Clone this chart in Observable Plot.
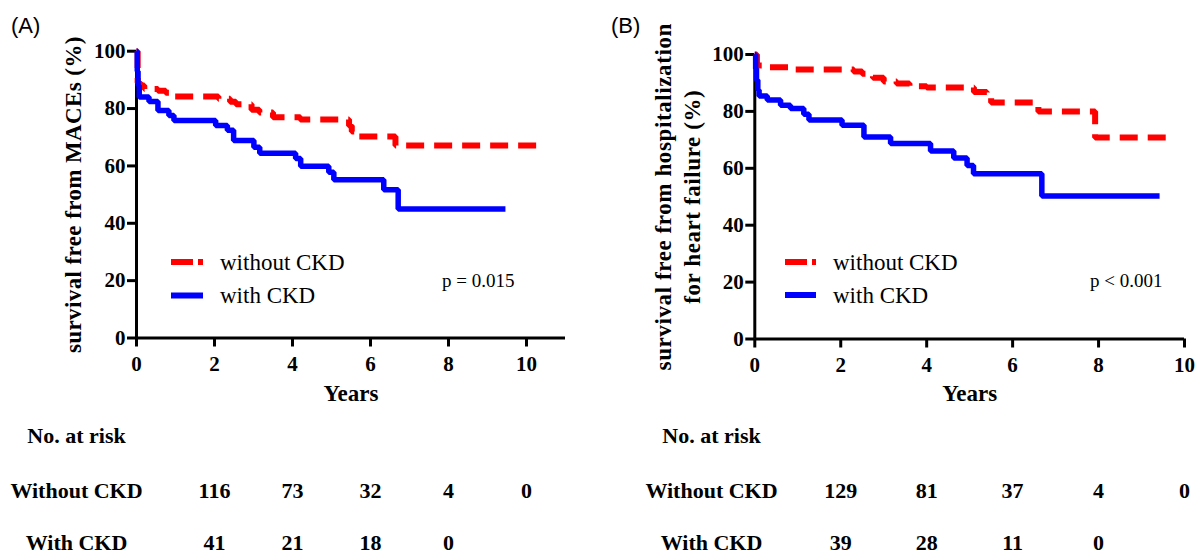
<!DOCTYPE html>
<html>
<head>
<meta charset="utf-8">
<script src="https://cdn.jsdelivr.net/npm/d3@7"></script>
<script src="https://cdn.jsdelivr.net/npm/@observablehq/plot@0.6"></script>
<style>
  html, body { margin: 0; padding: 0; background: #fff; }
  #wrap { position: relative; width: 1199px; height: 553px; overflow: hidden; background: #fff; }
  #panelA { position: absolute; left: 0; top: 0; }
  #panelB { position: absolute; left: 600px; top: 0; }
  #overlay { position: absolute; left: 0; top: 0; pointer-events: none; }
  .ylabA text { letter-spacing: 0.4px; }
  .ylabB text { letter-spacing: 0.6px; }
</style>
</head>
<body>
<div id="wrap">
  <div id="panelA"></div>
  <div id="panelB"></div>
  <svg id="overlay" width="1199" height="553"></svg>
</div>
<script>
// ---------- Data ----------
const xTicksA = [0, 2, 4, 6, 8, 10];
const xTicksB = [0, 2, 4, 6, 8, 10];
const yTicks = [0, 20, 40, 60, 80, 100];

// Panel A: survival free from MACEs
const withoutA_t = [0, 0.03, 0.1, 0.2, 0.55, 0.75, 0.92, 2.1, 2.4, 2.55, 2.95, 3.15, 3.5, 4.2, 5.45, 5.52, 5.6, 6.64, 10.38];
const withoutA_s = [100, 89, 88, 86.8, 86.2, 85.5, 84.2, 83.4, 82.4, 81.5, 79.6, 78.6, 77, 76.2, 74, 72, 70.3, 67.1, 67.1];
const withA_t = [0, 0.02, 0.04, 0.07, 0.32, 0.55, 0.83, 0.96, 2.03, 2.33, 2.49, 3.01, 3.16, 4.08, 4.21, 4.93, 5.06, 6.34, 6.71, 9.46];
const withA_s = [100, 93, 88, 84, 82.5, 79.3, 77.6, 75.8, 74.1, 72.4, 68.9, 66.5, 64.4, 62.6, 59.9, 57.8, 55.2, 51.7, 45.0, 45.0];

// Panel B: survival free from hospitalization for heart failure
const withoutB_t = [0, 0.05, 0.3, 0.9, 2.3, 2.5, 2.75, 3.0, 3.3, 3.6, 4.0, 5.1, 5.4, 5.5, 6.6, 7.92, 9.78];
const withoutB_s = [100, 96.1, 95.5, 94.7, 94, 93.2, 91.8, 90.5, 89.8, 88.8, 88.4, 86.8, 86, 83.1, 80, 70.8, 70.8];
const withB_t = [0, 0.02, 0.04, 0.07, 0.1, 0.29, 0.6, 0.83, 1.14, 1.26, 2.03, 2.54, 3.16, 4.09, 4.63, 4.94, 5.09, 6.68, 9.42];
const withB_s = [100, 95, 91, 87.5, 85.4, 84, 82.2, 81, 79, 77, 75.1, 71, 68.7, 66.1, 63.6, 61, 58.1, 50.3, 50.3];

// Numbers at risk
const riskTimes = [2, 4, 6, 8, 10];
const riskWithoutA = [116, 73, 32, 4, 0];
const riskWithA = [41, 21, 18, 0];
const riskWithoutB = [129, 81, 37, 4, 0];
const riskWithB = [39, 28, 11, 0];
const riskRowLabels = ["No. at risk", "Without CKD", "With CKD"];

const seriesNames = ["without CKD", "with CKD"];
const pTexts = ["p = 0.015", "p < 0.001"];
const panelTitles = ["(A)", "(B)"];
const yLabelA = "survival free from MACEs (%)";
const yLabelB = "survival free from hospitalization\nfor heart failure (%)";
const xLabel = "Years";

// ---------- Helpers ----------
const RED = "#ff0000", BLUE = "#0000ff";
const SERIF = "'Liberation Serif', 'Times New Roman', Times, serif";
const zip = (ts, ss) => ts.map((t, i) => ({t, s: ss[i]}));
const riskRows = (vals) => vals.map((n, i) => ({t: riskTimes[i], n}));

function panel(cfg) {
  return Plot.plot({
    width: cfg.width, height: 553,
    marginLeft: cfg.ml, marginRight: cfg.mr, marginTop: cfg.mt, marginBottom: cfg.mb,
    x: {domain: cfg.xDomain},
    y: {domain: [0, 100]},
    style: {fontFamily: SERIF, fontWeight: "bold", fontSize: "21px", color: "#000", background: "transparent", overflow: "visible"},
    marks: [
      Plot.axisX({ticks: cfg.xTicks, tickSize: 9, tickPadding: 9, strokeWidth: 3, label: null, tickFormat: d => String(d)}),
      Plot.axisY({ticks: yTicks, tickSize: 9, tickPadding: 2, strokeWidth: 3, label: null, tickFormat: d => String(d)}),
      Plot.ruleY([0], {stroke: "#000", strokeWidth: 3}),
      Plot.ruleX([0], {stroke: "#000", strokeWidth: 3}),
      Plot.line(cfg.red, {x: "t", y: "s", curve: "step-after", stroke: RED, strokeWidth: 6,
        strokeDasharray: "18,10", strokeLinecap: "butt", strokeLinejoin: "miter"}),
      Plot.line(cfg.blue, {x: "t", y: "s", curve: "step-after", stroke: BLUE, strokeWidth: 5.5,
        strokeLinecap: "butt", strokeLinejoin: "miter"}),
      // axis titles
      Plot.text([xLabel], {text: d => d, frameAnchor: "bottom", dy: cfg.yearsDy, fontSize: 23, fontWeight: "bold"}),
      Plot.text([cfg.yLabel], {text: d => d, frameAnchor: "left", textAnchor: "middle", dx: cfg.ylabDx, rotate: -90, fontSize: 23,
        fontWeight: "bold", lineHeight: 1.26, className: cfg.ylabClass}),
      // risk table
      Plot.text([riskRowLabels[0]], {text: d => d, frameAnchor: "bottom-left", textAnchor: "middle", dx: cfg.rowDx, dy: cfg.rowDy[0], fontSize: 22, fontWeight: "bold"}),
      Plot.text([riskRowLabels[1]], {text: d => d, frameAnchor: "bottom-left", textAnchor: "middle", dx: cfg.rowDx, dy: cfg.rowDy[1], fontSize: 22, fontWeight: "bold"}),
      Plot.text([riskRowLabels[2]], {text: d => d, frameAnchor: "bottom-left", textAnchor: "middle", dx: cfg.rowDx, dy: cfg.rowDy[2], fontSize: 22, fontWeight: "bold"}),
      Plot.text(cfg.riskWithout, {x: "t", text: "n", frameAnchor: "bottom", dy: cfg.rowDy[1], fontSize: 22, fontWeight: "bold"}),
      Plot.text(cfg.riskWith, {x: "t", text: "n", frameAnchor: "bottom", dy: cfg.rowDy[2], fontSize: 22, fontWeight: "bold"})
    ]
  });
}

document.getElementById("panelA").append(panel({
  width: 600, ml: 136, mr: 35, mt: 50.7, mb: 215.5, xDomain: [0, 11], xTicks: xTicksA,
  red: zip(withoutA_t, withoutA_s), blue: zip(withA_t, withA_s),
  yLabel: yLabelA, ylabDx: -65, ylabClass: "ylabA", yearsDy: 62.5,
  rowDx: -60, rowDy: [105, 160, 211.5],
  riskWithout: riskRows(riskWithoutA), riskWith: riskRows(riskWithA)
}));

document.getElementById("panelB").append(panel({
  width: 599, ml: 154.3, mr: 15, mt: 54, mb: 214.5, xDomain: [0, 10], xTicks: xTicksB,
  red: zip(withoutB_t, withoutB_s), blue: zip(withB_t, withB_s),
  yLabel: yLabelB, ylabDx: -79, ylabClass: "ylabB", yearsDy: 61.5,
  rowDx: -43.3, rowDy: [104, 159, 210.5],
  riskWithout: riskRows(riskWithoutB), riskWith: riskRows(riskWithB)
}));

// ---------- In-plot legends, p-values and panel letters (overlay) ----------
const ov = d3.select("#overlay");
const legends = [
  {x1: 171, x2: 203, yR: 262, yB: 295.5, tx: 220, ty: [270, 303.3], px: 442, py: 286.7, p: pTexts[0], lx: 11, title: panelTitles[0]},
  {x1: 785, x2: 816, yR: 262, yB: 295, tx: 833, ty: [270, 303.4], px: 1090, py: 286.7, p: pTexts[1], lx: 611, title: panelTitles[1]}
];
legends.forEach(L => {
  ov.append("line").attr("x1", L.x1).attr("x2", L.x2).attr("y1", L.yR).attr("y2", L.yR)
    .attr("stroke", RED).attr("stroke-width", 6).attr("stroke-dasharray", "22,5");
  ov.append("line").attr("x1", L.x1).attr("x2", L.x2).attr("y1", L.yB).attr("y2", L.yB)
    .attr("stroke", BLUE).attr("stroke-width", 6);
  seriesNames.forEach((name, i) => {
    ov.append("text").attr("x", L.tx).attr("y", L.ty[i]).text(name)
      .attr("font-family", SERIF).attr("font-size", 23).attr("fill", "#000");
  });
  ov.append("text").attr("x", L.px).attr("y", L.py).text(L.p)
    .attr("font-family", SERIF).attr("font-size", 19).attr("fill", "#000");
  ov.append("text").attr("x", L.lx).attr("y", 33).text(L.title)
    .attr("font-family", "'Liberation Sans', Arial, sans-serif").attr("font-size", 22).attr("fill", "#000");
});
</script>
</body>
</html>
